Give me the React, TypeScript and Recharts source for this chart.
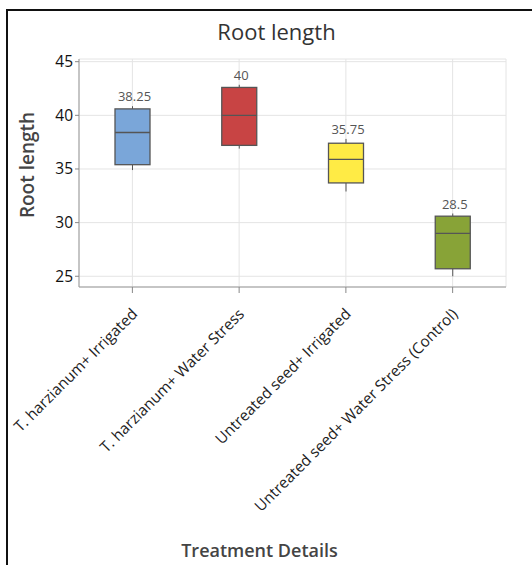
import { ComposedChart, Bar, XAxis, YAxis, CartesianGrid, Label } from 'recharts'

const categories = [
    'T. harzianum+ Irrigated',
    'T. harzianum+ Water Stress',
    'Untreated seed+ Irrigated',
    'Untreated seed+ Water Stress (Control)'
]
const mins = [34.9, 36.9, 32.9, 25.0]
const q1s = [35.4, 37.2, 33.7, 25.7]
const medians = [38.4, 40.0, 35.9, 29.0]
const q3s = [40.6, 42.6, 37.4, 30.6]
const maxs = [40.85, 42.85, 37.8, 30.85]
const means = ['38.25', '40', '35.75', '28.5']
const boxColors = ['#7aa6d9', '#c84444', '#ffeb45', '#88a337']
const yTicks = [25, 30, 35, 40, 45]

const FONT = '"Open Sans", "Noto Sans", sans-serif'

const data = categories.map((name, i) => ({
    name,
    min: mins[i],
    q1: q1s[i],
    median: medians[i],
    q3: q3s[i],
    max: maxs[i],
    mean: means[i],
    color: boxColors[i]
}))

// box + whiskers + median, scaled from the bar geometry recharts gives us
function BoxShape(props: any) {
    const { x, y, width, height, payload } = props
    const ppu = height / (payload.q3 - payload.q1)
    const yOf = (v: number) => y + (payload.q3 - v) * ppu
    const cx = x + width / 2
    const stroke = '#555'
    return (
        <g>
            <line x1={cx} x2={cx} y1={yOf(payload.max)} y2={y} stroke={stroke} strokeWidth={1} />
            <line x1={cx} x2={cx} y1={y + height} y2={yOf(payload.min)} stroke={stroke} strokeWidth={1} />
            <rect x={x} y={y} width={width} height={height} fill={payload.color} stroke={stroke} strokeWidth={1.3} />
            <line x1={x} x2={x + width} y1={yOf(payload.median)} y2={yOf(payload.median)} stroke={stroke} strokeWidth={1.3} />
            <text x={cx + 2} y={yOf(payload.max) - 5} textAnchor="middle" fontSize={13} fill="#555" fontFamily={FONT}>
                {payload.mean}
            </text>
        </g>
    )
}

function CategoryTick(props: any) {
    const { x, y, payload } = props
    return (
        <g transform={`translate(${x + 6},${y + 20})`}>
            <text transform="rotate(-45)" textAnchor="end" fontSize={15.3} fill="#222" fontFamily={FONT} fontWeight={500}>
                {payload.value}
            </text>
        </g>
    )
}

export default function App() {
    return (
        <div style={{ position: 'absolute', left: 0, top: 0, width: 532, height: 565, background: '#fff', overflow: 'hidden' }}>
            {/* outer frame, only left and top edges fall inside the picture */}
            <div style={{ position: 'absolute', left: 6, top: 9, width: 600, height: 600, border: '2px solid #111' }} />
            <div
                style={{
                    position: 'absolute', left: 0, width: 553, top: 16, textAlign: 'center',
                    fontFamily: FONT, fontSize: 22, fontWeight: 500, color: '#333'
                }}
            >
                Root length
            </div>
            <div style={{ position: 'absolute', left: 0, top: 0 }}>
                <ComposedChart
                    width={532}
                    height={565}
                    data={data}
                    margin={{ top: 59, right: 26, left: 0, bottom: 0 }}
                >
                    <CartesianGrid stroke="#e4e4e4" strokeWidth={1} />
                    <XAxis
                        dataKey="name"
                        height={278}
                        interval={0}
                        tick={<CategoryTick />}
                        tickLine={{ stroke: '#888' }}
                        tickSize={6}
                        axisLine={{ stroke: '#999' }}
                    >
                        <Label
                            content={({ viewBox }: any) => (
                                <text
                                    x={viewBox.x + viewBox.width / 2 - 33}
                                    y={557}
                                    textAnchor="middle"
                                    fontSize={18}
                                    fontWeight={600}
                                    fill="#444"
                                    fontFamily={FONT}
                                >
                                    Treatment Details
                                </text>
                            )}
                        />
                    </XAxis>
                    <XAxis xAxisId="top" orientation="top" dataKey="name" height={0} tick={false} tickLine={false} axisLine={{ stroke: '#999' }} />
                    <YAxis
                        type="number"
                        domain={[24, 45.25]}
                        ticks={yTicks}
                        width={79}
                        tick={{ fontSize: 15.5, fill: '#111', fontFamily: FONT }}
                        tickLine={{ stroke: '#888' }}
                        tickSize={4}
                        axisLine={{ stroke: '#999' }}
                        allowDataOverflow
                    >
                        <Label
                            content={() => (
                                <text
                                    x={34}
                                    y={165}
                                    transform="rotate(-90, 34, 165)"
                                    textAnchor="middle"
                                    fontSize={19}
                                    fontWeight={600}
                                    fill="#444"
                                    fontFamily={FONT}
                                >
                                    Root length
                                </text>
                            )}
                        />
                    </YAxis>
                    <YAxis yAxisId="right" orientation="right" width={0} tick={false} tickLine={false} axisLine={{ stroke: '#999' }} />
                    <Bar
                        dataKey={(d: any) => [d.q1, d.q3]}
                        barSize={35}
                        shape={<BoxShape />}
                        isAnimationActive={false}
                    />
                </ComposedChart>
            </div>
        </div>
    )
}
